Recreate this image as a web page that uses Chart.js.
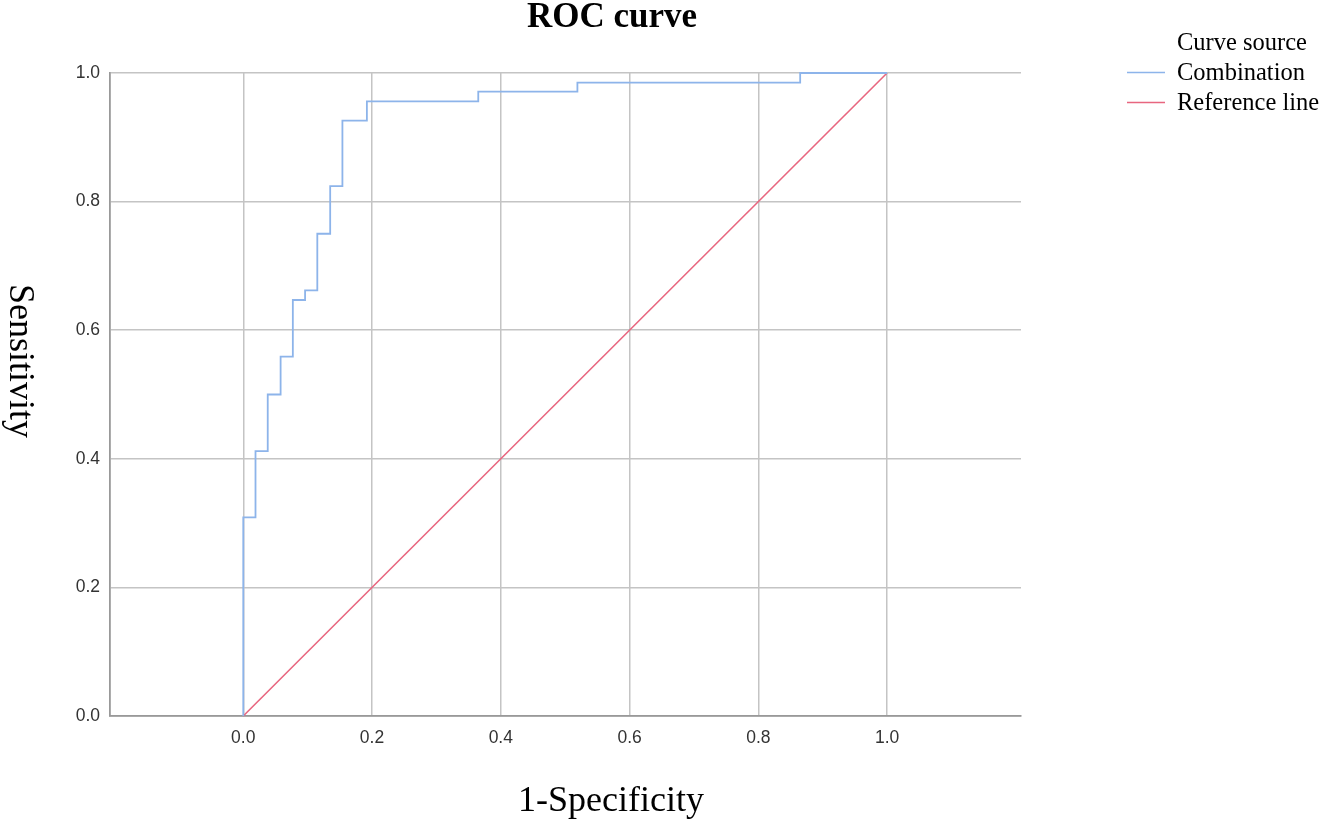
<!DOCTYPE html>
<html>
<head>
<meta charset="utf-8">
<script src="https://cdn.jsdelivr.net/npm/chart.js@4.4.1/dist/chart.umd.min.js"></script>
<style>
  html, body { margin: 0; padding: 0; background: #fff; }
  #wrap { width: 1321px; height: 820px; position: relative; }
</style>
</head>
<body>
<div id="wrap"><canvas id="roc" width="1321" height="820"></canvas></div>
<script>
// ROC curve – step points
const fpr = [0, 0, 0.019, 0.038, 0.058, 0.077, 0.096, 0.115, 0.135, 0.154, 0.192, 0.365, 0.519, 0.865, 1];
const tpr = [0, 0.309, 0.412, 0.5, 0.559, 0.647, 0.662, 0.75, 0.824, 0.926, 0.956, 0.971, 0.985, 1, 1];
const refX = [0, 1];
const refY = [0, 1];
const tickValues = [0, 0.2, 0.4, 0.6, 0.8, 1.0];
const seriesNames = ['Combination', 'Reference line'];
const legendTitle = 'Curve source';
const chartTitle = 'ROC curve';
const xTitle = '1-Specificity';
const yTitle = 'Sensitivity';

const BLUE = '#8db4ea';
const RED = '#e8667f';
const SERIF = "'Liberation Serif', 'Times New Roman', serif";
const SANS = "'Liberation Sans', Arial, sans-serif";

// titles + legend are drawn by hand to sit where SPSS puts them
const textPlugin = {
  id: 'spssText',
  afterDraw(chart) {
    const ctx = chart.ctx;
    ctx.save();
    ctx.fillStyle = '#000';
    ctx.textBaseline = 'alphabetic';

    ctx.font = 'bold 35px ' + SERIF;
    ctx.textAlign = 'center';
    ctx.fillText(chartTitle, 612, 27);

    ctx.font = '36px ' + SERIF;
    ctx.fillText(xTitle, 611, 811);

    ctx.save();
    ctx.translate(10, 361);
    ctx.rotate(Math.PI / 2);
    ctx.fillText(yTitle, 0, 0);
    ctx.restore();

    // legend
    ctx.font = '24.5px ' + SERIF;
    ctx.textAlign = 'left';
    ctx.fillText(legendTitle, 1177, 50);
    const cols = [BLUE, RED];
    seriesNames.forEach((name, i) => {
      const y = 72 + i * 30;
      ctx.strokeStyle = cols[i];
      ctx.lineWidth = 1.5;
      ctx.beginPath();
      ctx.moveTo(1127, y + 0.5);
      ctx.lineTo(1165, y + 0.5);
      ctx.stroke();
      ctx.fillText(name, 1177, y + 8);
    });
    ctx.restore();
  }
};

const tickOpts = (pad) => ({
  padding: pad,
  color: '#333',
  font: { family: SANS, size: 17.5 },
  callback: v => Number(v).toFixed(1)
});

new Chart(document.getElementById('roc'), {
  type: 'line',
  data: {
    datasets: [
      {
        label: seriesNames[0],
        data: fpr.map((x, i) => ({ x: x, y: tpr[i] })),
        borderColor: BLUE,
        borderWidth: 1.8,
        stepped: 'before',
        pointRadius: 0,
        fill: false,
        clip: 4
      },
      {
        label: seriesNames[1],
        data: refX.map((x, i) => ({ x: x, y: refY[i] })),
        borderColor: RED,
        borderWidth: 1.6,
        pointRadius: 0,
        fill: false,
        clip: 4
      }
    ]
  },
  options: {
    responsive: false,
    animation: false,
    layout: { padding: { top: 73, right: 300, left: 0, bottom: 0 } },
    plugins: { legend: { display: false }, title: { display: false }, tooltip: { enabled: false } },
    scales: {
      x: {
        type: 'linear',
        min: -0.207,
        max: 1.208,
        afterBuildTicks: s => { s.ticks = tickValues.map(v => ({ value: v })); },
        afterFit: s => { s.height = 104; },
        grid: { color: '#c4c4c4', lineWidth: 1.5, drawTicks: false },
        border: { display: true, color: '#999', width: 1.8 },
        ticks: tickOpts(12)
      },
      y: {
        min: 0,
        max: 1,
        afterBuildTicks: s => { s.ticks = tickValues.map(v => ({ value: v })); },
        afterFit: s => { s.width = 110; },
        grid: { color: '#c4c4c4', lineWidth: 1.5, drawTicks: false },
        border: { display: true, color: '#999', width: 1.8 },
        ticks: tickOpts(10)
      }
    }
  },
  plugins: [textPlugin]
});
</script>
</body>
</html>
